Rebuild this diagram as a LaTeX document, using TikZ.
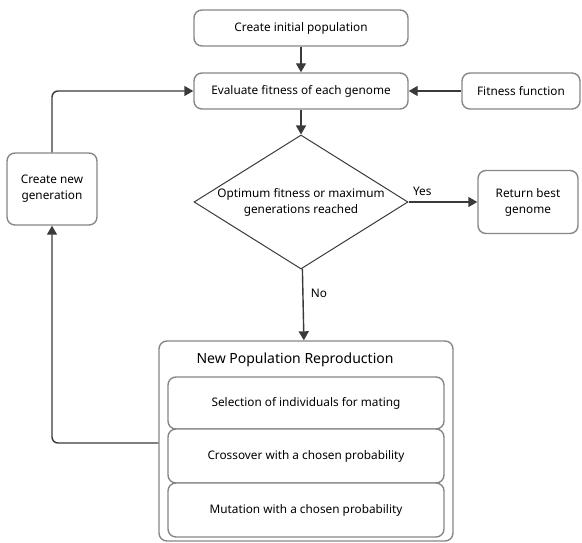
\documentclass[tikz,border=0pt]{standalone}
\usepackage{fontspec}
\setmainfont{Noto Sans}
\usetikzlibrary{shapes.geometric}
\usetikzlibrary{arrows.meta}
\definecolor{bord}{HTML}{878787}
\definecolor{trait}{HTML}{3A3A3A}
\tikzstyle{etape}=[rectangle,draw=bord,line width=1.4pt,rounded corners=8pt,
fill=white,text=black,align=center,font=\fontsize{11.8}{16}\selectfont,inner sep=0pt]
\tikzstyle{choix}=[diamond,draw=trait,line width=1pt,shape aspect=1.6,
minimum width=214pt,minimum height=134pt,inner sep=0pt,align=center,
font=\fontsize{11.8}{16}\selectfont]
\tikzstyle{suite}=[-{Triangle[length=9pt,width=10pt]},draw=trait,line width=1.4pt,rounded corners=6pt]
\tikzstyle{etiq}=[font=\fontsize{11.8}{14}\selectfont,text=black]

\begin{document}
\begin{tikzpicture}[x=1pt,y=-1pt]
\useasboundingbox (0,0) rectangle (582,543);
\node[etape,minimum width=214pt,minimum height=36pt] (init) at (301,28) {Create initial population};
\node[etape,minimum width=214pt,minimum height=36pt] (eval) at (301,91) {Evaluate fitness of each genome};
\node[etape,minimum width=118pt,minimum height=36pt] (fit) at (521,91) {Fitness function};
\node[choix] (opt) at (301,202) {Optimum fitness or maximum\\generations reached};
\node[etape,minimum width=100pt,minimum height=63pt] (best) at (528,202) {Return best\\genome};
\node[etape,minimum width=90pt,minimum height=72pt] (gen) at (52,189) {Create new\\generation};
\node[etape,minimum width=294pt,minimum height=200pt] (repro) at (306,441) {};
\node[etape,font=\fontsize{14}{16}\selectfont,draw=none,fill=none] (titre) at (295,360) {New Population Reproduction};
\node[etape,minimum width=276pt,minimum height=52pt] (sel) at (306,403) {Selection of individuals for mating};
\node[etape,minimum width=276pt,minimum height=54pt] (cross) at (306,456) {Crossover with a chosen probability};
\node[etape,minimum width=276pt,minimum height=54pt] (mut) at (306,510) {Mutation with a chosen probability};
%Placement des fleches
\draw[suite] (init) -- (eval);
\draw[suite] (fit) -- (eval);
\draw[suite] (eval) -- (opt);
\draw[suite] (opt) -- (best) node[etiq,pos=0.2,above=2pt]{Yes};
\draw[suite] (opt) -- (repro) node[etiq,pos=0.35,right=4pt]{No};
\draw[suite] (repro.west |- 0,443) -| (gen);
\draw[suite] (gen) |- (eval);
\end{tikzpicture}
\end{document}
